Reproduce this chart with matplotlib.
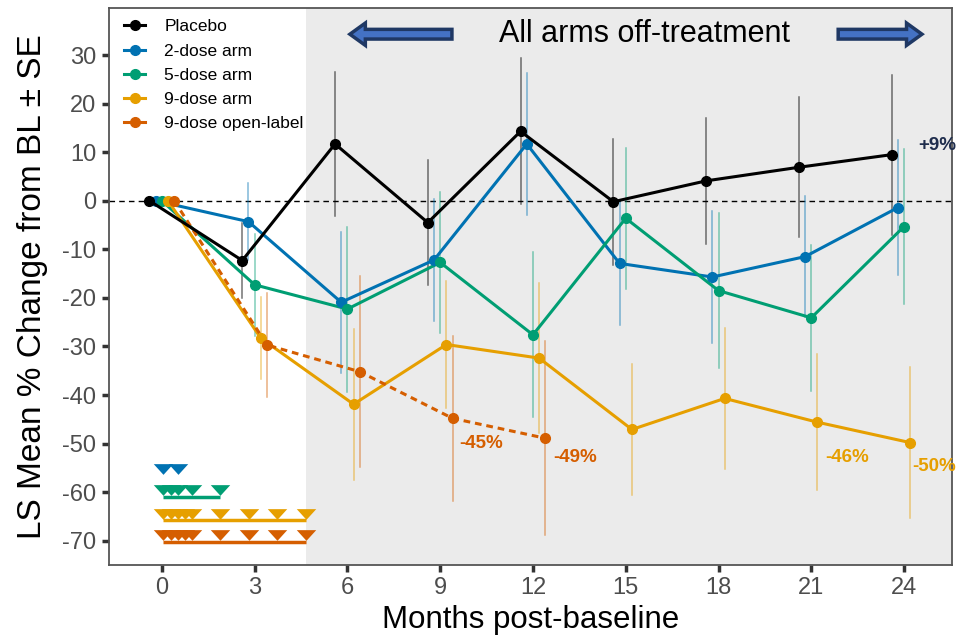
import matplotlib
matplotlib.use("Agg")
import matplotlib.pyplot as plt
from matplotlib.patches import FancyArrow
from matplotlib.lines import Line2D
import numpy as np

plt.rcParams['font.family'] = ['Liberation Sans', 'DejaVu Sans']
plt.rcParams['axes.unicode_minus'] = False

# ---------------- data ----------------
months = [0, 3, 6, 9, 12, 15, 18, 21, 24]
placebo = [0, -12.3, 11.7, -4.5, 14.3, -0.2, 4.1, 6.9, 9.5]
placebo_se = [0, 7.7, 14.8, 12.8, 15.0, 13.0, 13.0, 14.4, 16.5]
two_dose = [0, -4.3, -20.9, -12.2, 11.7, -12.9, -15.7, -11.5, -1.4]
two_se = [0, 7.9, 14.5, 12.5, 14.7, 12.7, 13.6, 12.5, 13.9]
five_dose = [0, -17.3, -22.3, -12.7, -27.6, -3.6, -18.5, -24.1, -5.3]
five_se = [0, 10.5, 17.0, 14.6, 17.0, 14.5, 16.0, 15.0, 15.9]
nine_dose = [0, -28.3, -41.9, -29.6, -32.4, -47.1, -40.7, -45.6, -49.8]
nine_se = [0, 8.4, 15.5, 13.0, 15.4, 13.5, 14.5, 14.0, 15.5]
open_months = [0, 3, 6, 9, 12]
open_label = [0, -29.7, -35.2, -44.8, -48.9]
open_se = [0, 10.8, 19.7, 17.0, 20.0]

series_names = ["Placebo", "2-dose arm", "5-dose arm", "9-dose arm", "9-dose open-label"]
colors = ["#000000", "#0072B2", "#009E73", "#E69F00", "#D55E00"]
dodge = [-0.4, -0.2, 0.0, 0.2, 0.4]

# dosing schedule (weeks) per arm, plotted as triangles
dose_weeks_2 = [0, 2]
dose_weeks_5 = [0, 1, 2, 4, 8]
dose_weeks_9 = [0, 1, 2, 3, 4, 8, 12, 16, 20]
dose_weeks_open = [0, 1, 2, 3, 4, 8, 12, 16, 20]
dose_rows = [-55.2, -59.6, -64.4, -68.8]

# end-of-line labels
end_labels = ["+9%", "-45%", "-49%", "-46%", "-50%"]
end_label_x = [24.45, 9.63, 12.65, 21.45, 24.25]
end_label_y = [11.3, -49.9, -52.9, -52.8, -54.8]
end_label_colors = ["#1F2D4D", "#D55E00", "#D55E00", "#E69F00", "#E69F00"]

off_treatment_start = 4.65

# ---------------- figure ----------------
fig = plt.figure(figsize=(9.56, 6.44), dpi=100)
ax = fig.add_axes([0.114, 0.1227, 0.8818, 0.8649])
xlim = (-1.71, 25.55)
ylim = (-75.0, 39.7)
ax.set_xlim(*xlim)
ax.set_ylim(*ylim)

ax.axvspan(off_treatment_start, xlim[1], color="#EBEBEB", zorder=0, lw=0)
ax.axhline(0, color="black", ls=(0, (4, 3)), lw=1.0, zorder=1)

all_series = [
    (months, placebo, placebo_se, "-"),
    (months, two_dose, two_se, "-"),
    (months, five_dose, five_se, "-"),
    (months, nine_dose, nine_se, "-"),
    (open_months, open_label, open_se, (0, (2.2, 1.6))),
]

handles = []
for i, (mx, my, se, ls) in enumerate(all_series):
    x = np.array(mx, dtype=float) + dodge[i]
    y = np.array(my)
    s = np.array(se)
    c = colors[i]
    eb_alpha = 0.55 if i == 0 else 0.5
    for xi, yi, si in zip(x, y, s):
        if si > 0:
            ax.plot([xi, xi], [yi - si, yi + si], color=c, lw=1.1, alpha=eb_alpha, zorder=2)
    zo = 6 if i == 0 else 4
    ax.plot(x, y, color=c, lw=2.2, ls=ls, zorder=zo)
    ax.plot(x, y, ls="none", marker="o", ms=7, color=c, zorder=zo + 0.5)
    handles.append(Line2D([], [], color=c, lw=2.2, marker="o", ms=7))

# dosing triangles
tri = [(-1, 0.55), (1, 0.55), (0, -0.55)]
for row_i, (wk, c) in enumerate(zip([dose_weeks_2, dose_weeks_5, dose_weeks_9, dose_weeks_open], colors[1:])):
    mx = np.array(wk) * 7 / 30.44 + 0.05
    yrow = dose_rows[row_i]
    if len(mx) > 2:
        ax.plot([mx[0], mx[-1]], [yrow - 1.4, yrow - 1.4], color=c, lw=2.5, solid_capstyle="butt", zorder=3)
    ax.plot(mx, [yrow] * len(mx), ls="none", marker=tri, ms=14, color=c, mec="none", zorder=3.5)

for t, xx, yy, c in zip(end_labels, end_label_x, end_label_y, end_label_colors):
    ax.text(xx, yy, t, color=c, fontsize=13.5, fontweight="bold", ha="left", va="center", zorder=7)

# off-treatment banner
ax.add_patch(FancyArrow(9.38, 34.3, -3.3, 0, width=2.0, head_width=4.6, head_length=0.5,
                        length_includes_head=True, fc="#4472C4", ec="#1F3864", lw=2.5, zorder=8))
ax.add_patch(FancyArrow(21.87, 34.3, 2.71, 0, width=2.0, head_width=4.6, head_length=0.5,
                        length_includes_head=True, fc="#4472C4", ec="#1F3864", lw=2.5, zorder=8))
ax.text(15.62, 34.3, "All arms off-treatment", fontsize=22, ha="center", va="center", color="black", zorder=8)

# axes styling
ax.set_xticks(months)
ax.set_yticks(np.arange(-70, 31, 10))
ax.tick_params(axis="both", length=5, width=2.5, color="#333333", labelcolor="#4D4D4D",
               labelsize=17, pad=4)
for side in ["left", "bottom", "top", "right"]:
    ax.spines[side].set_color("#555555")
    ax.spines[side].set_linewidth(1.3)

ax.set_xlabel("Months post-baseline", fontsize=22.5, labelpad=4, color="black")
ax.set_ylabel("LS Mean % Change from BL \u00b1 SE", fontsize=24, labelpad=10, color="black")

leg = ax.legend(handles, series_names, loc="upper left", bbox_to_anchor=(0.005, 1.0),
                frameon=False, fontsize=12.5, handlelength=1.2, handletextpad=1.1,
                labelspacing=0.52, borderaxespad=0.2, borderpad=0.45)

fig.savefig("out.png", dpi=100)
